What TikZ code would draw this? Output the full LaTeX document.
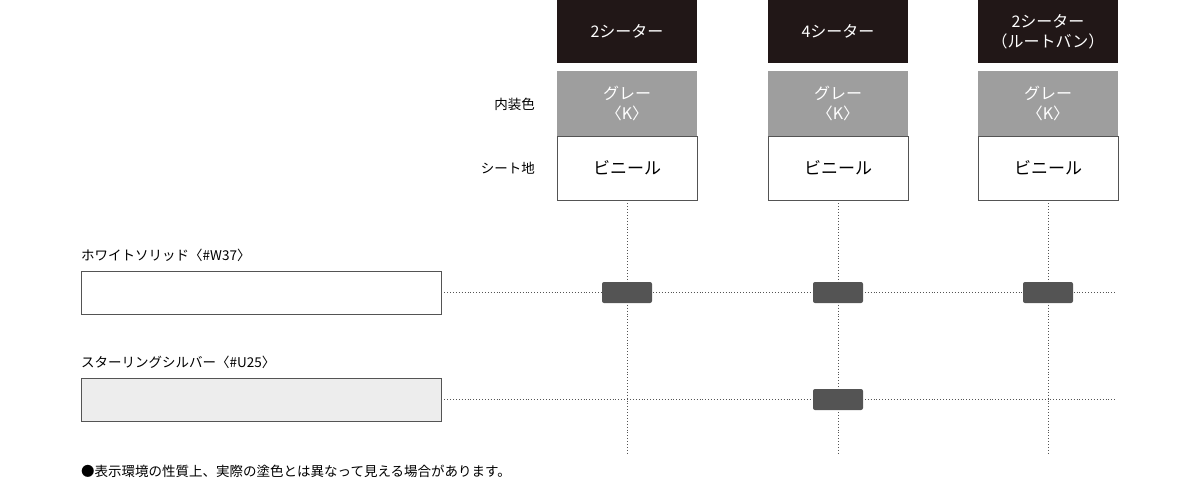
\documentclass[tikz,border=0pt]{standalone}
\usepackage{fontspec}
\setmainfont{Noto Sans CJK JP}
\definecolor{hdrblack}{rgb}{0.13,0.09,0.09}
\definecolor{trimgray}{rgb}{0.62,0.62,0.62}
\definecolor{markgray}{rgb}{0.33,0.33,0.33}
\definecolor{silver}{rgb}{0.93,0.93,0.93}
\tikzset{
  hdr/.style={fill=hdrblack,text=white,minimum width=140pt,minimum height=63pt,align=center,inner sep=0pt,font=\fontsize{16}{20}\selectfont},
  trim/.style={fill=trimgray,text=white,minimum width=140pt,minimum height=65pt,align=center,inner sep=0pt,font=\fontsize{16}{20}\selectfont},
  seat/.style={draw=markgray,line width=0.8pt,fill=white,minimum width=140pt,minimum height=64pt,inner sep=0pt,font=\fontsize{17}{20}\selectfont},
  swatch/.style={draw=markgray,line width=0.8pt,minimum width=360pt,minimum height=43pt,inner sep=0pt},
  avail/.style={fill=markgray,rounded corners=2pt,minimum width=50pt,minimum height=21pt,inner sep=0pt},
  dots/.style={dotted,line width=0.9pt,markgray},
  lbl/.style={font=\fontsize{13.5}{16}\selectfont,inner sep=0pt}
}
\begin{document}
\begin{tikzpicture}[x=1pt,y=-1pt]
\useasboundingbox (0,0) rectangle (1200,480);
% column headers
\foreach \n/\cx/\t in {a/627/2シーター,b/838/4シーター,c/1048/{2シーター\\（ルートバン）}}{
  \node[hdr] (h\n) at (\cx,31.5) {\t};
  \node[trim] (g\n) at (\cx,103.5) {グレー\\〈K〉};
  \node[seat] (s\n) at (\cx,168) {ビニール};
  \coordinate (e\n) at (\cx,455);
  \draw[dots] (s\n.south) -- (e\n);
}
\node[lbl,anchor=east] (trimlbl) at (535,104) {内装色};
\node[lbl,anchor=east] (seatlbl) at (535,168) {シート地};
% body colours
\node[swatch,fill=white] (w37) at (261,292.5) {};
\node[lbl,anchor=south west] (w37lbl) at (81,262) {ホワイトソリッド〈\#W37〉};
\node[swatch,fill=silver] (u25) at (261,399.5) {};
\node[lbl,anchor=south west] (u25lbl) at (81,369) {スターリングシルバー〈\#U25〉};
\coordinate (w37end) at (1117,292.5);
\coordinate (u25end) at (1117,399.5);
\draw[dots] (w37.east) -- (w37end);
\draw[dots] (u25.east) -- (u25end);
% availability
\foreach \n in {a,b,c}
  \node[avail] (wm\n) at (s\n |- w37) {};
\node[avail] (umb) at (sb |- u25) {};
\node[lbl,anchor=west] (note) at (81,471) {●表示環境の性質上、実際の塗色とは異なって見える場合があります。};
\end{tikzpicture}
\end{document}
